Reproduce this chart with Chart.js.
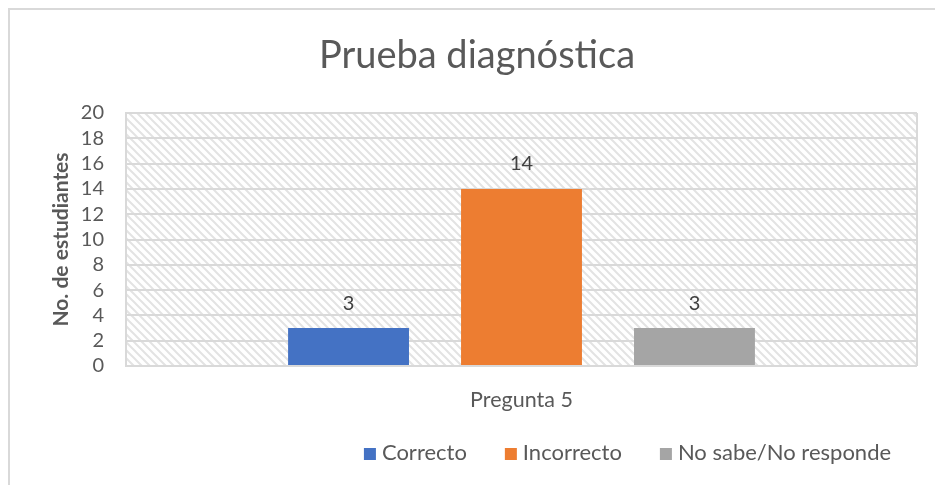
<!DOCTYPE html>
<html>
<head>
<meta charset="utf-8">
<script src="https://cdn.jsdelivr.net/npm/chart.js@4.4.1/dist/chart.umd.min.js"></script>
<style>
  html, body { margin: 0; padding: 0; background: #ffffff; }
  #wrap { position: relative; width: 935px; height: 485px; overflow: hidden; }
  #frame { position: absolute; left: 8px; top: 8px; width: 960px; height: 500px;
           border-left: 2px solid #d9d9d9; border-top: 2px solid #d9d9d9; box-sizing: border-box; }
  canvas { position: absolute; left: 0; top: 0; }
</style>
</head>
<body>
<div id="wrap">
  <div id="frame"></div>
  <canvas id="c" width="935" height="485"></canvas>
</div>
<script>
const chartTitle = 'Prueba diagnóstica';
const yAxisTitle = 'No. de estudiantes';
const categories = ['Pregunta 5'];
const seriesNames = ['Correcto', 'Incorrecto', 'No sabe/No responde'];
const correcto = [3];
const incorrecto = [14];
const noSabe = [3];
const seriesColors = ['#4472c4', '#ed7d31', '#a5a5a5'];
const yTicks = [0, 2, 4, 6, 8, 10, 12, 14, 16, 18, 20];

const FONT = 'Lato, "Open Sans", sans-serif';
const TXT = '#595959';

function makePattern() {
  const p = document.createElement('canvas');
  p.width = 8; p.height = 8;
  const g = p.getContext('2d');
  g.fillStyle = '#ffffff';
  g.fillRect(0, 0, 8, 8);
  g.strokeStyle = '#e3e3e3';
  g.lineWidth = 2;
  g.beginPath();
  g.moveTo(-2, -2); g.lineTo(10, 10);
  g.moveTo(-2, 6); g.lineTo(2, 10);
  g.moveTo(6, -2); g.lineTo(10, 2);
  g.stroke();
  return p;
}

const bgPlugin = {
  id: 'bgPlugin',
  beforeDraw(chart) {
    const { ctx, chartArea: a } = chart;
    ctx.save();
    ctx.fillStyle = ctx.createPattern(makePattern(), 'repeat');
    ctx.fillRect(a.left, a.top, a.right - a.left, a.bottom - a.top);
    ctx.restore();
  }
};

const titlePlugin = {
  id: 'titlePlugin',
  afterDraw(chart) {
    const ctx = chart.ctx;
    ctx.save();
    ctx.font = '38px ' + FONT;
    ctx.fillStyle = TXT;
    ctx.textAlign = 'center';
    ctx.textBaseline = 'alphabetic';
    ctx.fillText(chartTitle, 477, 68);
    ctx.restore();
  }
};

const labelPlugin = {
  id: 'labelPlugin',
  afterDatasetsDraw(chart) {
    const ctx = chart.ctx;
    ctx.save();
    ctx.font = '20px ' + FONT;
    ctx.fillStyle = '#404040';
    ctx.textAlign = 'center';
    ctx.textBaseline = 'middle';
    chart.data.datasets.forEach((ds, i) => {
      chart.getDatasetMeta(i).data.forEach((el, j) => {
        ctx.fillText(String(ds.data[j]), el.x, el.y - 25);
      });
    });
    ctx.restore();
  }
};

const legendPlugin = {
  id: 'legendPlugin',
  afterDraw(chart) {
    const ctx = chart.ctx;
    ctx.save();
    ctx.font = '22px ' + FONT;
    ctx.textBaseline = 'middle';
    const box = 12, boxGap = 6, itemGap = 38;
    const ds = chart.data.datasets;
    let total = 0;
    ds.forEach((d, i) => {
      total += box + boxGap + ctx.measureText(d.label).width + (i < ds.length - 1 ? itemGap : 0);
    });
    let x = 627.5 - total / 2;
    const y = 453;
    ds.forEach((d, i) => {
      ctx.fillStyle = d.backgroundColor;
      ctx.fillRect(x, y - 5, box, box);
      x += box + boxGap;
      ctx.fillStyle = TXT;
      ctx.textAlign = 'left';
      ctx.fillText(d.label, x, y);
      x += ctx.measureText(d.label).width + itemGap;
    });
    ctx.restore();
  }
};

new Chart(document.getElementById('c'), {
  type: 'bar',
  data: {
    labels: categories,
    datasets: [
      { label: seriesNames[0], data: correcto, backgroundColor: seriesColors[0] },
      { label: seriesNames[1], data: incorrecto, backgroundColor: seriesColors[1] },
      { label: seriesNames[2], data: noSabe, backgroundColor: seriesColors[2] }
    ]
  },
  options: {
    responsive: false,
    animation: false,
    devicePixelRatio: 1,
    categoryPercentage: 0.656,
    barPercentage: 0.699,
    layout: { padding: { left: 49, right: 18, top: 113, bottom: 0 } },
    plugins: { legend: { display: false }, title: { display: false }, tooltip: { enabled: false } },
    scales: {
      x: {
        offset: true,
        grid: { display: true, color: '#d9d9d9', lineWidth: 2, drawTicks: false },
        border: { display: false },
        ticks: { color: TXT, font: { family: FONT, size: 21.5 }, padding: 21 },
        afterFit(s) { s.height = 119; }
      },
      y: {
        min: 0, max: 20,
        afterBuildTicks(s) { s.ticks = yTicks.map(v => ({ value: v })); },
        grid: { color: '#d9d9d9', lineWidth: 2, drawTicks: false },
        border: { display: true, color: '#d9d9d9', width: 2 },
        ticks: { color: TXT, font: { family: FONT, size: 20 }, padding: 22, autoSkip: false },
        title: { display: true, text: yAxisTitle, color: TXT, font: { family: FONT, size: 21, weight: 'bold' }, padding: 0 },
        afterFit(s) { s.width = 77; }
      }
    }
  },
  plugins: [bgPlugin, labelPlugin, titlePlugin, legendPlugin]
});
</script>
</body>
</html>
